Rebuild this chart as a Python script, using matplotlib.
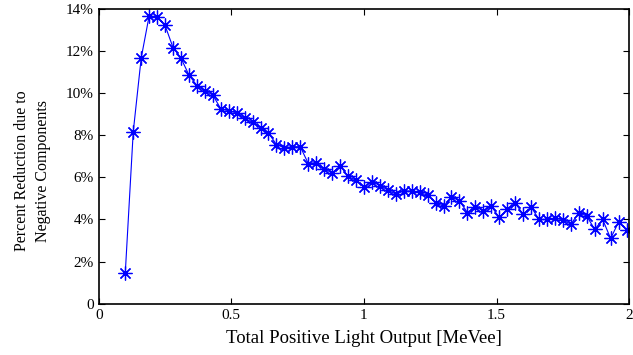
import numpy as np
import matplotlib.pyplot as plt

# Datos
light_output = np.round(np.arange(64) * 0.03 + 0.10, 2)
reduction = [1.46, 8.15, 11.65, 13.65, 13.6, 13.2, 12.15, 11.65, 10.85, 10.35,
             10.1, 9.9, 9.25, 9.15, 9.05, 8.8, 8.6, 8.35, 8.1, 7.55,
             7.4, 7.45, 7.45, 6.65, 6.7, 6.4, 6.2, 6.55, 6.05, 5.85,
             5.55, 5.8, 5.6, 5.4, 5.2, 5.35, 5.35, 5.28, 5.15, 4.8,
             4.62, 5.07, 4.88, 4.33, 4.6, 4.41, 4.63, 4.1, 4.49, 4.78,
             4.25, 4.6, 4.0, 4.0, 4.05, 3.99, 3.77, 4.32, 4.16, 3.53,
             4.0, 3.1, 3.88, 3.5]
y_ticks = [0, 2, 4, 6, 8, 10, 12, 14]
y_tick_labels = ['0', '2%', '4%', '6%', '8%', '10%', '12%', '14%']
x_ticks = [0, 0.5, 1, 1.5, 2]
x_tick_labels = ['0', '0.5', '1', '1.5', '2']

plt.rcParams['font.family'] = ['Liberation Serif', 'DejaVu Serif']

fig = plt.figure(figsize=(6.33, 3.55), dpi=100)
ax = fig.add_axes([0.156, 0.144, 0.838, 0.832])

ax.plot(light_output, reduction, color='#0000ff', linewidth=0.8,
        marker=(8, 2, 0), markersize=10, markeredgewidth=0.9)

ax.set_xlim(0, 2)
ax.set_ylim(0, 14)
ax.set_xticks(x_ticks)
ax.set_xticklabels(x_tick_labels)
ax.set_yticks(y_ticks)
ax.set_yticklabels(y_tick_labels)
ax.tick_params(direction='in', top=True, right=True, length=4, labelsize=11)
for s in ax.spines.values():
    s.set_linewidth(1.2)

ax.set_xlabel('Total Positive Light Output [MeVee]', fontsize=13.5, labelpad=6)
ax.set_ylabel('Percent Reduction due to\nNegative Components', fontsize=11.5,
              linespacing=1.45)
ax.yaxis.set_label_coords(-0.09, 0.45)

plt.savefig('out.png', dpi=100)
